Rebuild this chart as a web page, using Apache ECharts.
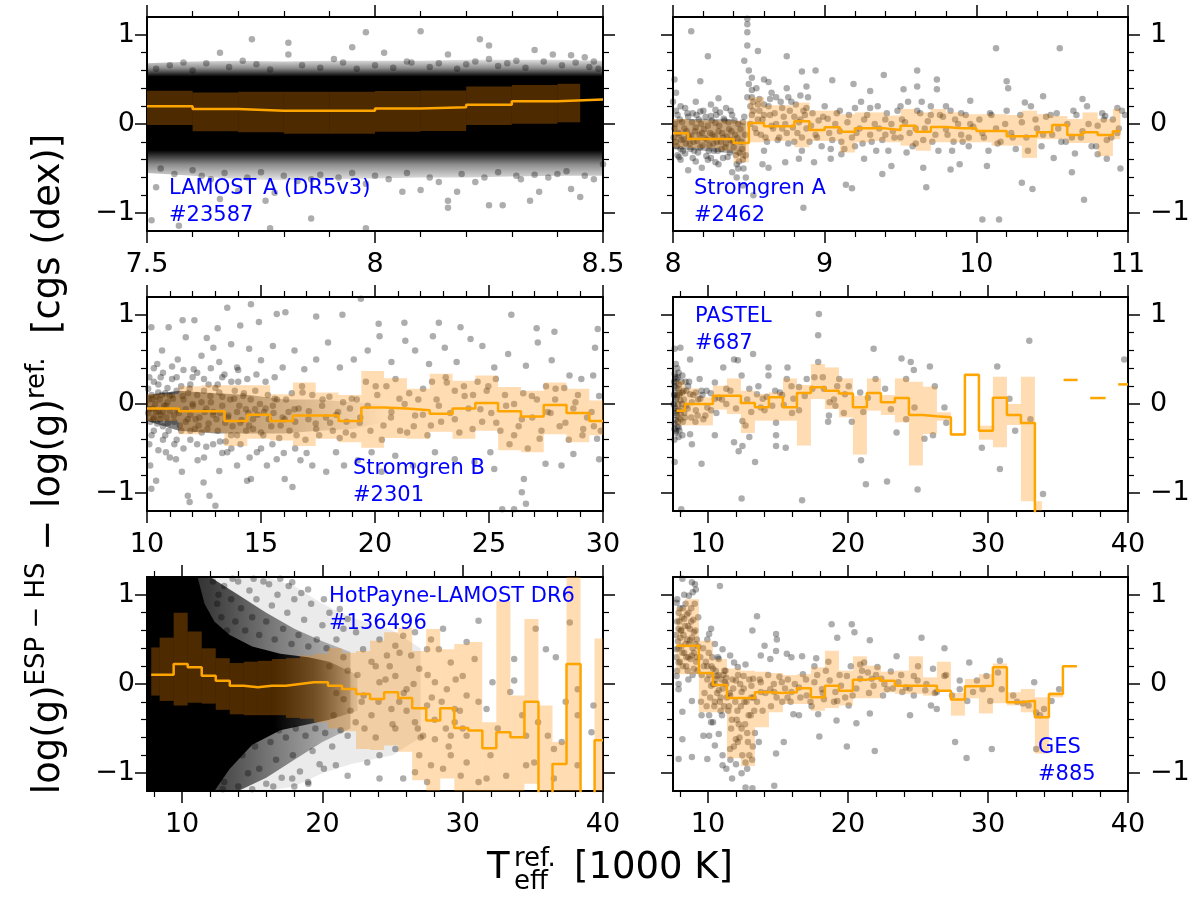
<!DOCTYPE html>
<html><head><meta charset="utf-8">
<script src="https://cdn.jsdelivr.net/npm/echarts@6/dist/echarts.min.js"></script>
<style>html,body{margin:0;padding:0;background:#fff}#c{width:1200px;height:900px}</style>
</head><body><div id="c"></div>
<script>
// ---------------- tick values ----------------
const yMajor = [-1, 0, 1];
const yMinor = [-0.8, -0.6, -0.4, -0.2, 0.2, 0.4, 0.6, 0.8];
const xMajorLamost = [7.5, 8, 8.5];
const xMinorLamost = [7.6, 7.7, 7.8, 7.9, 8.1, 8.2, 8.3, 8.4];
const xMajorStromA = [8, 9, 10, 11];
const xMinorStromA = [8.2, 8.4, 8.6, 8.8, 9.2, 9.4, 9.6, 9.8, 10.2, 10.4, 10.6, 10.8];
const xMajorStromB = [10, 15, 20, 25, 30];
const xMinorStromB = [11,12,13,14,16,17,18,19,21,22,23,24,26,27,28,29];
const xMajorWide = [10, 20, 30, 40];
const xMinorWide = [8,12,14,16,18,22,24,26,28,32,34,36,38];

// ---------------- panel labels ----------------
const panelLabels = ['LAMOST A (DR5v3)\n#23587', 'Stromgren A\n#2462', 'Stromgren B\n#2301', 'PASTEL\n#687', 'HotPayne-LAMOST DR6\n#136496', 'GES\n#885'];

// ---------------- LAMOST A ----------------
const lamEdges = [7.5,7.6,7.7,7.8,7.9,8.0,8.1,8.2,8.3,8.4,8.5];
const lamMed = [0.198,0.168,0.149,0.149,0.149,0.175,0.187,0.216,0.254,0.276];
const lamBandEdges = [7.5,7.6,7.7,7.8,7.9,8.0,8.1,8.2,8.3,8.4,8.45];
const lamHi = [0.373,0.354,0.362,0.362,0.362,0.369,0.377,0.42,0.437,0.451];
const lamLo = [-0.011,-0.082,-0.093,-0.108,-0.108,-0.086,-0.078,-0.011,0.004,0.019];
const lamDenseX = [7.5,7.6,7.7,7.8,7.9,8.0,8.1,8.2,8.3,8.4,8.5];
const lamCloudHi = [0.68,0.7,0.71,0.7,0.71,0.71,0.71,0.72,0.72,0.72,0.71];
const lamCloudLo = [-0.55,-0.58,-0.62,-0.63,-0.62,-0.61,-0.6,-0.6,-0.59,-0.58,-0.58];
const lamPts = [
[7.98,1.03],[8.1,1.04],[7.73,0.95],[7.81,0.91],[8.23,0.95],[8.25,0.88],[7.66,0.8],[7.95,0.86],[8.02,0.8],[8.35,0.83],[8.39,0.78],[8.16,0.78],[8.25,0.73],[8.31,0.71],[8.46,0.75],[7.91,0.73],[7.81,0.78],[8.43,0.77],[7.71,0.71],[7.58,0.69],[8.2,0.67],[8.08,0.69],[8.48,0.7],
[8.16,-0.86],[8.16,-0.94],[8.18,-0.76],[8.25,-0.91],[8.28,-0.91],[8.34,-0.86],[8.36,-0.76],[8.45,-0.82],[8.43,-0.73],[8.1,-0.74],[8.06,-0.76],[7.98,-0.67],[7.86,-0.62],[7.78,-0.77],[7.76,-0.86],[7.86,-1.06],[7.77,-1.17],[7.98,-1.17],[7.57,-1.14],[7.51,-1.08],[7.66,-0.84],[7.7,-0.75],[7.52,-0.71],[7.64,-0.62],[8.22,-0.65],[8.31,-0.58],[8.5,-0.45],[8.4,-0.56],
[7.52,0.62],[7.55,0.66],[7.6,0.6],[7.63,0.68],[7.68,0.64],[7.74,0.67],[7.77,0.61],[7.84,0.66],[7.88,0.63],[7.93,0.69],[7.96,0.62],[8.0,0.66],[8.04,0.63],[8.07,0.7],[8.12,0.64],[8.14,0.68],[8.18,0.62],[8.22,0.7],[8.27,0.65],[8.29,0.68],[8.33,0.63],[8.37,0.7],[8.41,0.66],[8.44,0.69],[8.47,0.64],[8.49,0.62],
[7.53,-0.5],[7.56,-0.56],[7.6,-0.52],[7.62,-0.58],[7.67,-0.55],[7.72,-0.6],[7.75,-0.54],[7.8,-0.58],[7.83,-0.64],[7.88,-0.57],[7.92,-0.6],[7.95,-0.55],[8.0,-0.58],[8.03,-0.62],[8.07,-0.55],[8.12,-0.6],[8.14,-0.65],[8.19,-0.56],[8.24,-0.6],[8.27,-0.54],[8.32,-0.62],[8.35,-0.57],[8.38,-0.6],[8.42,-0.53],[8.46,-0.58],[8.48,-0.62]
];

// ---------------- Stromgren A ----------------
const saEdges = [8.0,8.1,8.2,8.3,8.4,8.5,8.6,8.7,8.8,8.9,9.0,9.1,9.2,9.3,9.4,9.5,9.6,9.7,9.8,9.9,10.0,10.1,10.2,10.3,10.4,10.5,10.6,10.7,10.8,10.9,10.95];
const saMed = [-0.104,-0.168,-0.168,-0.168,-0.213,0.011,-0.026,-0.026,0.03,-0.067,-0.037,-0.086,-0.049,-0.049,-0.067,-0.019,-0.086,-0.034,-0.049,-0.049,-0.078,-0.078,-0.138,-0.138,-0.093,-0.011,-0.123,-0.093,-0.123,-0.082];
const saHi = [0.056,0.04,0.04,0.037,0.037,0.3,0.21,0.21,0.24,0.15,0.15,0.11,0.13,0.13,0.095,0.168,0.13,0.168,0.13,0.11,0.11,0.11,0.1,0.15,0.11,0.09,0.056,0.13,0.056,0.168];
const saLo = [-0.261,-0.27,-0.27,-0.3,-0.43,-0.205,-0.19,-0.19,-0.26,-0.19,-0.19,-0.32,-0.205,-0.19,-0.205,-0.243,-0.3,-0.205,-0.205,-0.205,-0.205,-0.243,-0.243,-0.38,-0.17,-0.17,-0.213,-0.213,-0.36,-0.17];
const saDenseX = [8.0,8.2,8.4,8.48];
const saDenseHi = [0.05,0.06,0.05,0.0];
const saDenseLo = [-0.28,-0.3,-0.33,-0.4];
const saPts = [
[8.12,1.04],[8.49,1.18],[8.49,1.12],[8.49,1.03],[8.49,0.88],[8.56,0.82],[8.47,0.71],[8.23,0.76],[8.75,0.76],[10.13,0.85],[10.55,0.85],[9.39,0.55],[9.61,0.6],[9.74,0.5],[8.85,0.59],[8.94,0.6],[8.18,0.48],[9.05,0.49],[10.2,0.48],[10.21,0.4],[10.44,0.31],[10.7,0.28],[9.96,0.26],[8.3,0.29],[8.01,0.5],[8.52,0.52],[8.6,0.5],[8.63,0.47],[8.88,0.42],[9.19,0.45],[9.3,0.37],[9.52,0.39],[9.61,0.42],[9.74,0.39],[10.32,0.24],[10.93,0.18],[10.85,0.09],
[10.04,-1.07],[10.15,-1.07],[10.71,-0.85],[8.86,-0.94],[8.46,-0.69],[8.53,-0.8],[9.18,-0.72],[9.14,-0.68],[9.67,-0.71],[10.37,-0.73],[10.3,-0.66],[10.95,-0.5],[10.86,-0.39],[9.83,-0.51],[9.89,-0.45],[10.07,-0.47],[9.38,-0.56],[9.44,-0.47],[9.54,-0.32],[9.65,-0.49],[10.51,-0.38],[10.65,-0.33],[10.8,-0.34],[10.63,-0.54],[8.04,-0.37],[8.1,-0.52],[8.19,-0.49],[8.28,-0.43],[8.39,-0.54],[8.42,-0.6],[8.59,-0.45],[8.63,-0.49],[8.74,-0.43],[8.83,-0.39],[8.93,-0.43],[9.04,-0.39],[9.11,-0.34],[9.26,-0.39],
[8.01,-0.05],[8.02,-0.2],[8.03,0.1],[8.04,-0.12],[8.05,-0.28],[8.06,0.02],[8.07,-0.17],[8.08,-0.33],[8.09,-0.08],[8.1,0.08],[8.11,-0.22],[8.12,-0.13],[8.13,0.12],[8.14,-0.3],[8.15,-0.04],[8.16,-0.19],[8.17,0.05],[8.18,-0.26],[8.19,-0.1],[8.2,0.15],[8.21,-0.16],[8.22,-0.36],[8.23,-0.02],[8.24,-0.24],[8.25,0.09],[8.26,-0.12],[8.27,-0.3],[8.28,0.01],[8.29,-0.2],[8.3,-0.08],[8.31,0.13],[8.32,-0.28],[8.33,-0.15],[8.34,0.04],[8.35,-0.22],[8.36,-0.37],[8.37,-0.06],[8.38,-0.18],[8.39,0.1],[8.4,-0.26],[8.41,-0.12],[8.42,-0.45],[8.43,0.0],[8.44,-0.32],[8.45,-0.2],[8.46,-0.4],[8.47,0.08],[8.48,-0.6],
[8.005,-0.15],[8.015,0.0],[8.025,-0.25],[8.035,-0.1],[8.045,0.05],[8.055,-0.18],[8.065,-0.3],[8.075,-0.05],[8.085,-0.22],[8.095,0.12],[8.105,-0.14],[8.115,-0.28],[8.125,0.02],[8.135,-0.2],[8.145,-0.08],[8.155,0.1],[8.165,-0.32],[8.175,-0.12],[8.185,0.0],[8.195,-0.24],[8.205,-0.06],[8.215,0.08],[8.225,-0.18],[8.235,-0.3],[8.245,-0.1],[8.255,0.04],[8.265,-0.22],[8.275,-0.14],[8.285,0.1],[8.295,-0.3],[8.305,-0.02],[8.315,-0.2],[8.325,-0.1],[8.335,0.06],[8.345,-0.26],[8.355,-0.14],[8.365,0.02],[8.375,-0.32],[8.385,-0.08],[8.395,-0.2],[8.405,0.04],[8.415,-0.35],[8.425,-0.16],[8.435,-0.42],[8.445,-0.06],[8.455,-0.28],[8.465,-0.5],[8.475,-0.12],[8.48,-0.35],[8.46,0.02],[8.03,-0.35],[8.08,0.18],[8.13,-0.38],[8.18,0.14],[8.23,-0.4],[8.28,0.16],[8.33,-0.38],[8.38,0.15],[8.43,-0.5],[8.02,0.15],
[8.05,0.2],[8.15,0.25],[8.25,0.22],[8.35,0.18],[8.05,-0.4],[8.15,-0.42],[8.25,-0.38],[8.3,-0.45],[8.0,0.25],[8.02,0.35],
[8.49,0.3],[8.5,0.45],[8.51,0.2],[8.52,0.38],[8.53,0.25],[8.55,0.4],[8.57,0.15],[8.5,0.6],[8.52,0.1],[8.54,-0.05],
[8.56,0.05],[8.58,-0.12],[8.6,0.22],[8.62,-0.2],[8.64,0.1],[8.66,-0.05],[8.68,0.3],[8.7,-0.15],[8.72,0.18],[8.74,0.0],[8.76,-0.22],[8.78,0.25],[8.8,0.08],[8.82,-0.1],[8.84,0.32],[8.86,0.15],[8.88,-0.05],[8.9,-0.2],[8.92,0.12],[8.94,-0.12],[8.96,0.04],[8.98,-0.25],[8.65,0.35],[8.75,0.4],[8.85,-0.3],[8.6,-0.3],
[8.51,0.0],[8.53,0.15],[8.55,-0.1],[8.57,0.28],[8.59,0.05],[8.61,-0.15],[8.63,0.2],[8.65,-0.02],[8.67,0.12],[8.69,-0.18],[8.71,0.25],[8.73,0.08],[8.75,-0.1],[8.77,0.15],[8.79,-0.04],[8.81,0.22],[8.83,0.02],[8.85,-0.15],[8.87,0.1],[8.89,0.3],[8.52,0.3],[8.56,0.22],[8.6,0.1],[8.64,0.28],[8.68,0.0],[8.72,-0.05],[8.76,0.3],[8.8,-0.2],[8.84,0.05],[8.88,0.18],
[9.02,0.06],[9.05,-0.18],[9.08,0.12],[9.1,-0.08],[9.13,-0.28],[9.15,0.02],[9.18,-0.15],[9.2,0.18],[9.23,-0.05],[9.25,-0.22],[9.28,0.1],[9.3,-0.12],[9.33,0.0],[9.35,0.2],[9.38,-0.18],[9.4,0.05],[9.42,-0.3],[9.45,-0.08],[9.48,0.15],[9.5,-0.15],[9.53,0.02],[9.55,0.25],[9.58,-0.25],[9.6,-0.05],[9.63,0.12],[9.65,-0.18],[9.68,0.03],[9.7,0.2],[9.73,-0.12],[9.75,-0.3],[9.78,0.08],[9.8,-0.06],[9.83,0.15],[9.85,-0.2],[9.88,0.0],[9.9,-0.12],[9.93,0.1],[9.95,-0.25],[9.98,-0.03],
[8.91,-0.02],[8.95,-0.15],[8.99,0.08],[9.03,-0.1],[9.07,0.0],[9.11,-0.2],[9.16,0.1],[9.21,-0.1],[9.26,0.05],[9.31,-0.2],[9.36,-0.05],[9.41,0.12],[9.46,-0.15],[9.51,0.05],[9.56,-0.1],[9.61,0.15],[9.66,-0.05],[9.71,-0.2],[9.76,0.1],[9.81,-0.12],[9.86,0.05],[9.91,-0.2],[9.96,0.0],[9.0,0.2],[9.1,0.15],[9.2,-0.25],[9.3,0.18],[9.4,-0.12],[9.5,0.2],[9.6,-0.22],[9.7,0.1],[9.8,0.2],[9.9,0.12],[9.95,-0.15],[9.04,-0.28],[9.24,0.25],[9.44,0.0],[9.64,0.25],[9.84,-0.3],[9.34,-0.3],
[10.02,0.05],[10.05,-0.15],[10.08,-0.3],[10.1,0.1],[10.13,-0.05],[10.16,-0.2],[10.2,0.15],[10.23,-0.1],[10.26,-0.28],[10.3,0.02],[10.33,-0.15],[10.36,0.2],[10.4,-0.05],[10.43,-0.25],[10.46,0.08],[10.5,-0.12],[10.53,0.12],[10.56,-0.2],[10.6,0.0],[10.63,-0.15],[10.66,0.1],[10.7,-0.08],[10.73,0.2],[10.76,-0.25],[10.8,-0.02],[10.83,0.12],[10.86,-0.18],[10.9,0.05],[10.93,-0.1],[10.96,0.15],
[10.04,-0.1],[10.09,0.12],[10.14,-0.22],[10.19,0.0],[10.24,-0.15],[10.29,0.1],[10.34,-0.3],[10.39,0.05],[10.44,-0.12],[10.49,0.1],[10.54,-0.05],[10.59,-0.2],[10.64,0.15],[10.69,-0.15],[10.74,0.0],[10.79,-0.25],[10.84,0.05],[10.89,-0.15],[10.94,-0.05],[10.98,0.1]
];

// ---------------- Stromgren B ----------------
const sbEdges = [10,11.4,12.4,13.4,14.4,15.4,16.4,17.4,18.4,19.4,20.4,21.4,22.4,23.4,24.4,25.4,26.4,27.4,28.4,29.4,30];
const sbMed = [-0.05,-0.08,-0.08,-0.19,-0.12,-0.19,-0.13,-0.13,-0.19,-0.04,-0.05,-0.07,-0.11,-0.05,0.01,-0.08,-0.14,-0.01,-0.10,-0.19];
const sbHi = [0.11,0.2,0.21,0.21,0.21,0.11,0.24,0.13,0.1,0.37,0.29,0.17,0.34,0.26,0.32,0.19,0.15,0.24,0.17,0.04];
const sbLo = [-0.19,-0.34,-0.32,-0.47,-0.39,-0.41,-0.47,-0.39,-0.43,-0.49,-0.38,-0.39,-0.31,-0.39,-0.3,-0.52,-0.54,-0.34,-0.43,-0.35];
const sbDenseX = [10,11.4,13,14.5,16,17.5,19,20.5];
const sbDenseHi = [0.1,0.15,0.12,0.1,0.05,0.05,0.02,0.0];
const sbDenseLo = [-0.19,-0.3,-0.33,-0.33,-0.33,-0.3,-0.28,-0.2];
const sbPts = [
[10.19,0.86],[10.95,0.86],[11.56,0.94],[12.08,0.94],[12.62,0.74],[13.1,0.85],[13.52,1.08],[14.09,0.88],[14.56,1.12],[14.91,0.92],[15.69,1.01],[16.07,1.03],[17.42,0.98],[18.57,1.0],[19.38,1.18],[20.16,0.9],[21.29,0.91],[22.8,0.91],[23.75,0.86],[25.98,1.0],[27.09,0.85],[27.87,0.81],[29.77,0.84],
[10.45,0.45],[10.66,0.6],[11.35,0.5],[11.7,0.75],[12.05,0.39],[12.39,0.54],[12.91,0.63],[13.17,0.47],[13.69,0.67],[13.95,0.41],[14.48,0.62],[15.0,0.49],[15.52,0.65],[15.95,0.41],[16.47,0.6],[16.9,0.39],[17.42,0.5],[17.94,0.69],[18.46,0.41],[19.07,0.5],[19.68,0.6],[20.2,0.76],[20.72,0.47],[21.33,0.71],[21.76,0.6],[22.37,0.45],[22.54,0.76],[23.06,0.63],[23.58,0.47],[24.19,0.73],[24.71,0.65],[25.23,0.41],[25.84,0.56],[26.62,0.43],[27.14,0.69],[27.75,0.49],[28.53,0.32],[29.05,0.28],[29.57,0.32],[29.65,0.63],
[10.14,-0.69],[10.19,-0.95],[10.4,-0.86],[10.83,-0.54],[11.27,-0.62],[11.53,-0.76],[11.79,-1.03],[11.87,-1.1],[12.22,-0.63],[12.48,-0.88],[12.74,-1.03],[13.0,-1.14],[13.17,-0.75],[13.52,-0.54],[13.95,-0.69],[14.39,-0.86],[14.56,-0.84],[14.82,-0.54],[15.26,-0.69],[15.69,-0.62],[16.04,-0.84],[16.38,-0.93],[16.73,-0.63],[17.25,-0.69],[17.86,-0.76],[18.29,-0.54],[18.64,-0.69],[19.25,-0.63],[19.85,-0.54],[20.29,-0.76],[20.89,-0.58],[21.67,-0.69],[22.63,-0.54],[23.5,-0.62],[24.36,-0.65],[25.06,-0.54],[25.23,-0.73],[25.58,-1.18],[26.1,-1.18],[26.53,-0.84],[26.44,-0.99],[26.62,-1.12],[27.48,-0.67],[28.18,-0.69],[28.7,-0.56],[29.83,-0.62],[29.74,-0.39],
[10.05,0.17],[10.23,0.06],[10.4,-0.09],[10.57,-0.17],[10.83,-0.02],[11.0,0.09],[11.18,-0.13],[11.44,-0.24],[11.7,-0.06],[11.87,0.17],[12.13,-0.17],[12.39,0.02],[12.65,-0.28],[12.91,-0.09],[13.17,0.13],[13.43,-0.21],[13.69,-0.35],[13.95,-0.09],[14.22,0.09],[14.48,-0.24],[14.74,-0.06],[15.0,-0.32],[15.34,-0.17],[15.6,0.06],[15.86,-0.24],[16.21,-0.09],[16.56,-0.35],[16.82,0.13],[17.08,-0.17],[17.42,-0.28],[17.68,-0.02],[18.03,-0.21],[18.38,-0.09],[18.72,-0.32],[18.98,0.06],[19.33,-0.21],[19.68,-0.02],[20.03,0.2],[20.37,-0.24],[20.72,-0.09],[21.07,0.06],[21.41,-0.32],[21.76,-0.13],[22.11,0.17],[22.45,-0.24],[22.8,-0.02],[23.15,0.24],[23.5,-0.17],[23.93,0.09],[24.28,-0.28],[24.62,-0.06],[24.97,0.2],[25.32,-0.21],[25.75,-0.02],[26.1,-0.35],[26.44,-0.17],[26.88,0.09],[27.22,-0.39],[27.57,-0.09],[27.92,0.17],[28.35,-0.21],[28.79,0.02],[29.13,-0.28],[29.5,-0.09],[29.83,0.09],
[10.1,-0.06],[10.28,-0.17],[10.49,0.13],[10.69,-0.09],[10.92,-0.21],[11.14,0.06],[11.32,-0.07],[11.56,0.09],[11.79,-0.17],[12.01,-0.02],[12.26,-0.24],[12.53,-0.09],[12.78,0.09],[13.05,-0.17],[13.3,-0.02],[13.57,-0.13],[13.82,0.06],[14.09,-0.21],[14.34,-0.06],[14.65,-0.17],[15.13,-0.09],[15.52,-0.02],[16.04,-0.17],[16.47,-0.06],
[10.3,0.25],[10.6,0.3],[11.1,0.28],[11.5,0.2],[12.0,0.3],[12.7,0.22],[13.3,0.3],[14.0,0.25],[10.2,-0.35],[10.7,-0.4],[11.2,-0.45],[11.9,-0.4],[12.6,-0.48],[13.2,-0.42],
[10.05,-0.1],[10.1,0.05],[10.15,-0.2],[10.2,0.1],[10.25,-0.05],[10.3,-0.15],[10.35,0.0],[10.4,0.08],[10.45,-0.22],[10.5,-0.08],[10.55,0.05],[10.6,-0.12],[10.65,0.1],[10.7,-0.25],[10.75,-0.02],[10.8,0.12],[10.85,-0.15],[10.9,0.02],[10.95,-0.3],[11.0,-0.08],[11.1,0.1],[11.2,-0.2],[11.3,0.15],[11.4,-0.1],[11.5,-0.3],[11.6,0.05],[11.7,-0.2],[11.8,0.12],[11.9,-0.12],[12.0,0.0],[12.1,-0.28],[12.2,0.1],[12.3,-0.15],[12.4,-0.32],[12.5,0.15],[12.6,-0.05],[12.7,-0.22],[12.8,0.02],[12.9,-0.12],[13.0,0.18],
[13.1,-0.3],[13.2,-0.1],[13.3,0.08],[13.45,-0.42],[13.55,-0.15],[13.65,0.05],[13.75,-0.25],[13.85,0.15],[13.95,-0.35],[14.05,-0.02],[14.15,-0.18],[14.25,0.12],[14.35,-0.3],[14.45,-0.1],[14.55,0.05],[14.65,-0.28],[14.75,0.15],[14.85,-0.12],[14.95,0.0],[15.1,-0.35],[15.2,-0.05],[15.3,0.1],[15.45,-0.25],[15.55,-0.1],[15.7,0.05],[15.8,-0.38],[15.95,-0.15],[16.1,0.05],[16.25,-0.3],[16.35,0.12],[16.5,-0.2],[16.65,-0.05],[16.8,0.2],[16.95,-0.4],[17.1,-0.08],[17.25,0.1],[17.4,-0.22],[17.55,-0.35],[17.7,0.05],[17.85,-0.15],[18.0,0.08],[18.15,-0.3],[18.3,-0.12],[18.45,-0.38],[18.6,0.02],[18.75,-0.2],[18.9,-0.05],[19.05,-0.35],[19.2,0.05],[19.35,-0.15],
[19.6,0.25],[19.8,-0.3],[20.1,0.1],[20.3,-0.4],[20.5,0.2],[20.7,-0.15],[20.9,0.28],[21.1,-0.3],[21.3,0.0],[21.5,0.12],[21.7,-0.25],[21.9,0.05],[22.1,-0.12],[22.3,-0.35],[22.5,0.25],[22.7,0.05],[22.9,-0.2],[23.1,0.3],[23.3,-0.1],[23.5,0.15],[23.7,-0.32],[23.9,0.2],[24.1,-0.05],[24.3,0.1],[24.5,0.25],[24.7,-0.2],[24.9,0.15],[25.1,-0.1],[25.3,0.28],[25.5,-0.3],[25.7,0.1],[25.9,-0.45],[26.1,0.0],[26.3,-0.25],[26.5,0.12],[26.7,-0.5],[26.9,-0.15],[27.1,0.05],[27.3,-0.3],[27.5,0.2],[27.7,-0.1],[27.9,0.05],[28.1,-0.25],[28.3,0.18],[28.5,-0.4],[28.7,-0.05],[28.9,0.1],[29.1,-0.35],[29.3,-0.15],[29.6,-0.25],[29.9,-0.3],
[10.1,0.3],[10.3,0.4],[10.5,0.22],[10.7,0.35],[10.9,0.18],[11.1,0.42],[11.3,0.3],[11.6,0.38],[11.9,0.22],[12.2,0.35],[12.5,0.28],[12.8,0.4],[13.1,0.22],[13.4,0.33],[13.7,0.25],[14.0,0.38],[14.4,0.28],[14.8,0.33],[15.2,0.25],[15.6,0.3],
[10.1,-0.45],[10.3,-0.3],[10.5,-0.52],[10.8,-0.35],[11.0,-0.6],[11.3,-0.4],[11.6,-0.5],[11.9,-0.3],[12.2,-0.45],[12.5,-0.6],[12.9,-0.45],[13.3,-0.55],[13.7,-0.5],[14.1,-0.45],[14.5,-0.6],[15.0,-0.5],[15.5,-0.45],[16.0,-0.55],[16.5,-0.5],[17.0,-0.55]
];

// ---------------- PASTEL ----------------
const paEdges = [7.75,8.35,9.35,10.35,11.35,12.35,13.35,14.35,15.35,16.35,17.35,18.35,19.35,20.35,21.35,22.35,23.35,24.35,25.35,26.35,27.35,28.35,29.35,30.35,31.35,32.35,33.35,33.85];
const paMed = [-0.075,0,0,0.093,0.093,0.011,-0.037,0.075,-0.037,0.123,0.187,0.149,0.119,-0.037,0.123,0.019,0.067,-0.123,-0.138,-0.149,-0.343,0.328,-0.299,0.071,-0.123,-0.213,-1.6];
const paHi = [0.26,0.175,0.075,0.205,0.287,0.149,0.112,0.13,0.287,0.213,0.448,0.41,0.287,0.093,0.287,0.1,0.287,0.25,0.194,-0.093,-0.325,0.336,-0.243,0.306,0,0.306,-1.09];
const paLo = [-0.24,-0.24,-0.24,-0.063,-0.112,-0.325,-0.187,-0.187,-0.187,-0.466,0.056,-0.056,-0.149,-0.567,-0.075,-0.123,-0.205,-0.69,-0.336,-0.187,-0.354,0.31,-0.4,-0.485,-0.235,-1.09,-1.2];
const paIsoX0 = [35.4, 37.3, 39.3];
const paIsoX1 = [36.4, 38.4, 40.0];
const paIsoY = [0.27, 0.067, 0.22];
const paPts = [
[7.62,0.34],[7.76,0.28],[7.9,0.35],[8.17,0.32],[7.62,0.2],[7.9,0.17],[8.17,0.13],[7.76,0.07],[8.03,0.04],[7.62,-0.02],[7.9,-0.07],[7.76,-0.13],[8.03,-0.17],[7.62,-0.22],[7.9,-0.26],[7.7,-0.32],[7.9,-0.37],[7.62,0.62],[8.03,0.63],[8.17,-0.35],[8.72,-0.34],[8.85,-0.45],[8.44,-0.02],[8.72,0.11],[8.58,0.2],[8.72,0.5],[9.54,-0.67],[7.62,-0.65],[8.09,-1.18],
[7.58,0.1],[7.66,-0.1],[7.72,0.24],[7.84,-0.2],[7.8,0.4],[7.95,0.1],[8.1,-0.05],[8.25,0.15],[8.3,-0.1],[8.4,0.25],[7.6,-0.4],[7.7,0.45],
[7.55,0.0],[7.58,0.25],[7.6,-0.28],[7.63,0.12],[7.65,-0.05],[7.67,0.3],[7.69,-0.18],[7.71,0.05],[7.73,-0.3],[7.75,0.18],[7.78,-0.08],[7.8,0.1],[7.82,-0.25],[7.85,0.3],[7.87,0.0],[7.9,-0.15],[7.93,0.22],[7.96,-0.3],[8.0,0.12],[8.05,-0.1],[8.1,0.25],[8.15,0.0],[8.2,-0.2],[8.28,0.05],[8.35,-0.15],[8.45,0.15],[8.55,-0.05],[8.65,0.25],[8.8,-0.15],[8.95,0.1],[9.1,-0.2],[9.3,0.05],[9.6,0.1],[9.9,0.15],[10.2,0.12],[10.6,-0.1],[11.0,0.05],[11.6,0.15],[12.0,-0.05],[12.8,0.05],[13.6,0.2],[14.2,0.08],[14.8,0.15],[15.3,0.1],[16.0,-0.1],[17.6,0.3],[18.2,0.3],[19.0,0.05],[19.7,-0.1],
[9.13,-0.07],[9.45,0.06],[9.81,-0.13],[9.95,-0.04],[10.49,-0.35],[10.49,0.24],[11.09,0.41],[11.31,0.17],[11.86,0.5],[12.13,0.49],[12.4,0.32],[12.46,-0.19],[12.68,-0.24],[11.86,-0.43],[12.19,-0.53],[12.46,-0.47],[12.95,-0.37],[13.22,0.56],[13.36,-0.65],[12.4,-1.06],[12.95,0.17],[13.5,0.11],[13.91,0.06],[14.04,-0.07],[14.32,0.32],[14.32,0.41],[14.59,-0.02],[14.86,-0.21],[14.86,-0.35],[14.86,-0.47],[15.55,-0.49],[15.63,0.28],[15.68,0.41],[15.96,0.2],[16.1,0.06],[16.5,-0.07],[16.72,-1.08],[17.05,0.28],[17.46,0.17],[17.87,0.47],[17.87,0.77],[17.92,1.01],[18.28,0.17],[18.69,0.02],[18.64,-0.13],[18.58,-0.2],[19.1,-0.02],[19.37,0.28],[20.05,0.2],[20.27,-0.2],[20.93,-0.63],[21.09,-0.09],[21.28,-0.9],[21.83,0.62],[21.97,0.28],[22.79,-0.87],[23.47,-0.32],[23.82,0.51],[24.15,0.28],[24.48,0.47],[24.7,0.38],[24.75,-0.04],[24.97,-0.96],[25.46,-0.39],[25.85,0.42],[26.2,0.2],[26.07,-0.35],[26.89,-0.04],[27.02,-0.21],[30.66,0.42],[30.85,-0.73],[29.56,-0.49],[31.53,0.06],[31.94,-0.3],[32.95,0.71],[33.03,-0.17],[33.93,-1.01],[39.73,0.5],[24.15,-0.17],[23.06,-0.06],[22.65,0.17],[21.42,0.07],[20.87,0.13],[19.78,0.11],[19.23,0.2],[16.91,0.09],[16.5,0.19],[15.41,-0.01],[15.14,0.13],[13.77,-0.04],[13.09,-0.09],[11.31,0],[10.77,0.07],[10.49,0.06],[10.22,-0.07],[9.67,-0.17],[9.26,-0.13],[8.85,0.02],[9.13,0.13],[9.4,0.28],[9.54,0.15]
];

// ---------------- HotPayne-LAMOST DR6 ----------------
const hpEdges = [7.8,8.4,9.4,10.4,11.4,12.4,13.4,14.4,15.4,16.4,17.4,18.4,19.4,20.4,21.4,22.4,23.4,24.4,25.4,26.4,27.4,28.4,29.4,30.4,31.4,32.4,33.4,34.4,35.4,36.4,37.4,38.4,39.4,40];
const hpMed = [0.104,0.104,0.224,0.187,0.093,0.037,-0.019,-0.037,-0.019,-0.019,0,0.019,0.019,-0.019,-0.056,-0.112,-0.168,-0.093,-0.157,-0.272,-0.41,-0.272,-0.493,-0.522,-0.72,-0.541,-0.597,-0.198,-1.6,-0.896,0.224,-1.6,-0.63];
const hpHi = [0.41,0.52,0.8,0.59,0.4,0.29,0.235,0.25,0.26,0.28,0.29,0.32,0.34,0.4,0.35,0.37,0.485,0.58,0.63,0.37,0.616,0.39,0.45,0.47,-0.43,0.93,-0.13,0.73,-0.24,-0.65,1.2,-1.2,0.51];
const hpLo = [-0.13,-0.19,-0.24,-0.21,-0.22,-0.29,-0.34,-0.35,-0.35,-0.35,-0.38,-0.39,-0.43,-0.5,-0.53,-0.73,-0.74,-0.69,-0.76,-1.08,-1.2,-1.06,-1.2,-1.2,-1.2,-1.2,-1.2,-1.12,-1.2,-1.2,-1.2,-1.2,-1.2];
const hpCoreX = [7.5,11.1,11.6,12.3,13.4,15.0,17.0,19.0,20.5,22.5];
const hpCoreHi = [1.2,1.2,0.9,0.7,0.55,0.42,0.34,0.3,0.25,0.1];
const hpCoreLo = [-1.2,-1.2,-1.2,-1.2,-0.95,-0.68,-0.52,-0.45,-0.4,-0.3];
const hpMidX = [7.5,12.0,14.0,16.0,18.0,20.0,22.0];
const hpMidHi = [1.2,1.2,1.0,0.8,0.62,0.48,0.36];
const hpMidLo = [-1.2,-1.2,-1.2,-1.05,-0.85,-0.65,-0.5];
const hpOutX = [7.5,14,16,18,20,22,25,27];
const hpOutHi = [1.2,1.2,1.2,1.1,0.9,0.75,0.6,0.4];
const hpOutLo = [-1.2,-1.2,-1.2,-1.15,-1.0,-0.9,-0.8,-0.6];
const hpPts = [
[31.13,0.71],[35.2,0.62],[36.64,0.3],[32.12,0.02],[33.67,0.04],[33.39,-0.09],[39.18,-0.54],[37.06,-0.65],[36.07,-0.58],[34.52,-0.91],[36.5,-0.73],[31.13,-1.1],[31.7,-1.06],[33.1,-1.03],[29.86,-1.03],[28.6,-0.95],[26.6,-0.99],[25.76,-1.06],[24.07,-1.06],[23.2,-0.88],[21.8,-1.03],[20.96,-0.91],[20.11,-0.95],[18.98,-1.1],[17.85,-1.06],[24.07,-0.8],[25.2,-0.73],[26.9,-0.8],[27.74,-0.91],[29.15,-0.8],[30.28,-0.88],[28.02,-0.62],[29.15,-0.58],[26.6,-0.43],[25.2,-0.5],[27.46,-0.24],[29.43,-0.28],[30.28,-0.13],[31.13,-0.2],[31.7,-0.28],[30.0,0.09],[29.15,0.24],[28.3,0.39],[27.74,0.5],[26.6,0.58],[25.76,0.54],[25.2,0.43],[24.6,0.32],[26.9,0.17],[28.02,0.02],[26.0,-0.06],[24.07,0.02],[23.8,0.2],[22.9,0.39],[22.4,0.58],[21.8,0.73],[21.24,0.84],[20.11,0.95],[18.98,1.06],[17.85,1.14],[24.07,0.5],[31.98,-0.8],[34.52,-0.58],[38.2,-0.35],[39.32,-0.24],[38.2,-0.06],[35.37,-0.43],[32.5,-0.5],[34.24,-0.35],[37.34,-0.2],[35.93,0.39],[37.63,0.69],[33.67,0.28],[30.85,0.28],[30.28,0.47],[28.6,0.62],[27.46,0.39],[26.33,0.32],[24.92,-0.28],[23.5,-0.35],[22.37,-0.43],[21.8,-0.58],[27.18,-0.58],[29.43,-0.43],[30.28,-0.58],[22.94,-0.13],[21.52,-0.17],[25.2,0.09],[25.48,-0.2],[28.87,-0.06],[38.19,-0.91],[35.1,-0.88],[36.5,-1.06],[27.46,-1.1],
[13.0,1.1],[13.5,0.95],[14.0,1.15],[14.2,0.85],[14.8,1.05],[15.0,0.75],[15.3,0.95],[15.8,1.15],[16.0,0.7],[16.4,0.88],[16.8,1.0],[17.2,0.62],[17.5,0.8],[18.0,0.95],[18.3,0.55],[18.7,0.72],[19.2,0.9],[19.6,0.5],[20.0,0.66],[20.5,0.8],[21.0,0.5],[21.5,0.62],[12.5,0.9],[12.8,0.75],[13.2,0.6],[13.8,0.7],[14.5,0.6],[15.5,0.55],[16.6,0.5],[17.8,0.45],[19.0,0.42],[20.3,0.4],[12.2,1.15],[12.6,1.0],[13.6,1.18],[15.1,1.18],[16.2,1.12],[17.0,1.18],[17.6,1.1],[18.5,1.02],
[13.0,-1.1],[13.4,-0.9],[14.0,-1.15],[14.3,-0.8],[14.7,-1.0],[15.2,-0.7],[15.5,-0.95],[16.0,-1.12],[16.3,-0.65],[16.7,-0.85],[17.1,-1.05],[17.4,-0.6],[17.9,-0.8],[18.4,-0.98],[18.8,-0.58],[19.3,-0.75],[19.8,-0.9],[20.2,-0.55],[20.7,-0.7],[21.3,-0.52],[12.4,-0.95],[12.7,-0.8],[13.3,-0.65],[13.9,-0.6],[14.6,-0.55],[15.8,-0.56],[16.9,-0.52],[18.1,-0.5],[19.5,-0.5],[12.1,-1.15],[12.9,-1.18],[15.0,-1.18],[16.5,-1.15],[18.0,-1.15],[19.0,-1.12],
[20.5,0.2],[21.0,-0.1],[21.5,0.3],[22.0,-0.3],[22.5,0.1],[23.0,-0.5],[23.5,0.25],[24.0,-0.2],[24.5,0.05],[25.0,-0.45],[25.5,0.35],[26.0,-0.3],[26.5,0.0],[27.0,-0.6],[27.5,0.1],[28.0,-0.4],[28.5,-0.2],[29.0,-0.7],[29.5,0.05],[30.0,-0.5],[20.8,-0.35],[21.8,0.15],[22.8,-0.2],[23.8,-0.6],[24.8,0.2],[25.8,-0.1],[26.8,-0.5],[27.8,-0.15],[28.8,-0.5],[29.8,-0.3]
];

// ---------------- GES ----------------
const geEdges = [7.75,8.35,9.35,10.35,11.35,12.35,13.35,14.35,15.35,16.35,17.35,18.35,19.35,20.35,21.35,22.35,23.35,24.35,25.35,26.35,27.35,28.35,29.35,30.35,31.35,32.35,33.35,34.35,35.35,36.35];
const geMed = [0.429,0.429,0.123,-0.011,-0.157,-0.157,-0.093,-0.1,-0.093,-0.049,-0.149,-0.019,-0.075,0.049,0.067,0.037,-0.019,-0.019,-0.019,-0.075,-0.175,-0.026,-0.019,0.187,-0.205,-0.187,-0.373,-0.112,0.198];
const geHi = [0.86,0.95,0.485,0.28,0.175,0.15,0.138,0.123,0.1,0.11,0.187,0.373,0.15,0.31,0.205,0.138,0.15,0.31,0.075,0.25,-0.1,0.056,0.11,0.23,-0.093,-0.056,-0.149,-0.093,0.21];
const geLo = [0.11,0.11,-0.317,-0.317,-0.832,-0.92,-0.485,-0.317,-0.224,-0.224,-0.3,-0.27,-0.24,-0.16,-0.16,-0.093,-0.11,-0.11,-0.13,-0.075,-0.355,-0.16,-0.33,-0.216,-0.24,-0.317,-0.78,-0.15,0.19];
const gePts = [
[8.17,1.18],[8.85,1.14],[9.07,1.12],[9.13,1.06],[8.91,1.03],[8.63,0.99],[10.85,1.1],[7.76,0.91],[7.9,0.8],[8.3,0.73],[8.58,0.65],[7.9,0.62],[8.99,0.58],[8.03,0.52],[8.72,0.49],[7.76,0.39],[8.17,0.35],[8.85,0.32],[7.9,0.24],[8.44,0.2],[8.99,0.17],[7.76,0.09],[7.9,-0.06],[8.2,0.85],[8.5,0.78],[8.8,0.7],[9.1,0.45],[8.4,0.45],[8.1,0.6],[9.2,0.3],[7.8,0.7],[8.6,0.3],
[7.7,0.55],[7.75,0.3],[7.8,0.15],[7.85,0.48],[7.9,0.4],[7.95,0.7],[8.0,0.25],[8.05,0.6],[8.1,0.42],[8.15,0.75],[8.2,0.2],[8.25,0.55],[8.3,0.35],[8.35,0.65],[8.4,0.9],[8.45,0.3],[8.5,0.5],[8.55,0.15],[8.6,0.8],[8.65,0.45],[8.7,0.62],[8.75,0.28],[8.8,0.85],[8.85,0.52],[8.9,0.4],[8.95,0.72],[9.0,0.35],[9.05,0.9],[9.1,0.6],[9.15,0.25],[9.2,0.5],[9.25,0.15],[9.3,0.42],[7.8,0.95],[8.0,0.85],[8.3,1.0],[8.6,0.05],[8.9,0.1],[7.9,0.0],[9.3,0.75],
[10.08,0.56],[10.22,0.62],[9.95,0.5],[10.49,0.45],[11.04,0.39],[11.58,0.32],[10.77,0.28],[11.86,0.24],[9.95,0.2],[10.36,0.17],[11.17,0.15],[12.13,0.19],[12.68,0.22],[10.63,0.09],[11.31,0.07],[11.99,0.04],[12.54,0.09],[13.22,0.06],[13.77,0.02],[10.22,-0.02],[10.77,-0.07],[11.58,-0.13],[12.4,-0.09],[13.09,-0.15],[13.77,-0.09],[14.45,-0.06],[10.49,-0.2],[10.08,-0.35],[10.36,-0.43],[10.77,-0.56],[10.08,-0.58],[10.49,-0.69],[11.04,-0.8],[11.31,-0.95],[11.72,-1.06],[12.68,-1.16],[13.17,-1.17],[14.73,-1.14],[11.04,-0.91],[11.58,-0.73],[11.99,-0.62],[12.4,-0.5],[12.95,-0.8],[12.68,-0.88],[12.13,-0.65],[13.63,-0.65],[14.86,-0.78],[15.41,-0.65],[8.17,-0.31],[8.85,-0.19],[8.17,-0.62],[7.9,-0.84],[8.85,-0.82],[9.95,-0.84],[9.67,-0.58],[10.22,-0.43],[9.54,-0.35],[13.5,0.76],[13.17,0.6],[14.86,0.56],[14.92,0.5],[14.04,0.43],[14.86,0.37],[15.63,0.34],[15.96,0.3],[16.72,0.31],[17.73,0.29],[13.77,0.32],[14.45,0.28],
[9.45,0.3],[9.55,0.1],[9.65,0.4],[9.75,-0.1],[9.85,0.25],[9.95,0.05],[10.05,0.35],[10.15,-0.15],[10.25,0.2],[10.35,0.0],[10.45,-0.25],[10.55,0.15],[10.65,-0.1],[10.75,0.1],[10.85,-0.2],[10.95,0.05],[11.05,-0.05],[11.15,-0.25],[11.25,0.15],[11.35,-0.15],[9.5,-0.2],[9.7,0.2],[9.9,-0.25],[10.1,0.1],[10.3,0.3],[10.5,0.05],[10.7,0.3],[10.9,-0.3],[11.1,0.1],[11.3,0.0],
[11.45,-0.3],[11.55,-0.1],[11.65,-0.5],[11.75,0.05],[11.85,-0.7],[11.95,-0.2],[12.05,-0.4],[12.15,0.1],[12.25,-0.6],[12.35,-0.25],[12.45,-0.8],[12.55,-0.05],[12.65,-0.45],[12.75,-0.2],[12.85,-0.65],[12.95,0.05],[13.05,-0.35],[13.15,-0.85],[13.25,-0.15],[13.35,-0.55],[11.6,-0.85],[12.0,-0.9],[12.4,-1.0],[12.8,-0.95],[13.2,-0.7],
[10.5,0.0],[10.9,-0.15],[11.2,0.02],[11.5,-0.25],[11.8,-0.05],[12.1,-0.3],[12.3,0.0],[12.6,-0.2],[12.9,-0.35],[13.1,-0.02],[11.0,-0.35],[11.7,-0.4],[12.2,-0.45],[12.8,-0.55],[13.3,-0.3],
[13.5,-0.2],[13.7,0.05],[13.9,-0.3],[14.1,-0.1],[14.3,0.1],[14.5,-0.25],[14.7,0.0],[14.9,-0.15],[15.1,0.08],[15.3,-0.2],[15.5,-0.05],[15.7,0.05],[15.9,-0.2],[16.2,0.0],[16.6,-0.15],[17.0,0.05],[17.4,-0.25],[17.8,0.1],[18.2,-0.1],[18.6,0.25],[19.0,-0.2],[19.4,0.1],[19.8,-0.15],[20.2,0.2],[20.6,-0.05],[21.0,0.15],[21.5,-0.1],[22.0,0.1],[22.6,0.0],[23.2,-0.05],[23.8,0.1],[24.4,-0.05],[25.0,0.2],[25.6,0.0],[26.2,-0.1],[27.0,0.1],
[18.83,0.67],[20.27,0.67],[19.23,0.52],[20.46,0.58],[21.56,0.49],[25.25,0.52],[26.89,0.4],[23.47,0.31],[28.66,0.24],[30.85,0.26],[22.1,0.19],[21.15,0.24],[23.06,0.14],[24.7,0.09],[26.07,0.17],[26.89,0.09],[27.98,0.04],[29.21,0.04],[29.89,0.09],[30.71,0.13],[31.8,-0.13],[32.49,-0.22],[33.3,0.02],[35.08,-0.06],[34.54,-0.19],[34.0,-0.28],[30.16,-0.19],[28.52,-0.19],[27.43,-0.13],[25.93,-0.24],[26.34,-0.28],[24.43,-0.35],[21.56,-0.33],[20.6,-0.44],[19.18,-0.41],[17.87,-0.34],[16.5,-0.35],[16.1,-0.34],[19.92,-0.7],[17.95,-0.59],[21.91,-0.75],[27.65,-0.65],[28.47,-0.83],[30.27,-0.73],[33.44,-0.73],
[15.96,-0.09],[16.5,-0.04],[17.05,-0.13],[17.6,0.02],[18.14,-0.06],[18.69,0.04],[19.1,-0.09],[19.5,-0.02],[19.92,0.09],[20.33,-0.13],[20.87,0.06],[21.42,0.13],[21.83,-0.02],[22.38,0.06],[22.79,-0.06],[23.6,0.02],[24.15,-0.04],[24.97,0.04],[25.52,-0.07],[15.27,0.02],[14.73,-0.09],[15.68,-0.15],[17.32,-0.2],[18.28,-0.17],[19.23,-0.19],[20.05,-0.24],[18.42,0.15],[17.6,0.2],[16.78,0.11],[20.87,0.22],[21.7,0.06],[22.5,-0.13],[23.88,-0.09],[24.7,-0.13],[26.34,-0.09],[27.98,-0.06],[28.93,-0.09],[29.62,-0.06],[30.98,-0.06],[32.08,-0.2],[32.9,-0.24],[33.72,-0.35],[33.44,-0.32]
];

// ---------------- layout ----------------
const gridBoxes = [
  {left:147, top:17, width:456, height:214},
  {left:673, top:17, width:455, height:214},
  {left:147, top:297, width:456, height:214},
  {left:673, top:297, width:455, height:214},
  {left:147, top:577, width:456, height:214},
  {left:673, top:577, width:455, height:214}
];
const FONT = 'DejaVu Sans';
const BAND = 'rgba(255,140,0,0.3)';
const MEDC = '#ffa500';
const PTC = 'rgba(0,0,0,0.4)';
const YMIN = -1.2, YMAX = 1.2;
const fmt = v => (v < 0 ? '\u2212' : '') + String(Math.abs(v));
const clampY = v => Math.max(YMIN, Math.min(YMAX, v));
const k = a => 'rgba(0,0,0,' + a + ')';

const xAxes = [], yAxes = [], series = [];
function addAxes(gi, xr, xMaj, xMin, ySide) {
  const line = {show:true, onZero:false, lineStyle:{color:'#000', width:2}};
  const noLine = {show:false, onZero:false};
  const tMaj = v => ({show:true, inside:false, customValues:v, length:12, lineStyle:{color:'#000', width:1.5}});
  const tMin = v => ({show:true, inside:false, customValues:v, length:6, lineStyle:{color:'#000', width:1.2}});
  ['bottom','top'].forEach(pos => {
    xAxes.push({type:'value', gridIndex:gi, position:pos, min:xr[0], max:xr[1], axisLine:line, axisTick:tMaj(xMaj), splitLine:{show:false},
      axisLabel: pos === 'bottom' ? {show:true, customValues:xMaj, fontSize:27, color:'#000', fontFamily:FONT, margin:20, formatter:fmt} : {show:false}});
    xAxes.push({type:'value', gridIndex:gi, position:pos, min:xr[0], max:xr[1], axisLine:noLine, axisTick:tMin(xMin), splitLine:{show:false}, axisLabel:{show:false}});
  });
  ['left','right'].forEach(pos => {
    yAxes.push({type:'value', gridIndex:gi, position:pos, min:YMIN, max:YMAX, axisLine:line, axisTick:tMaj(yMajor), splitLine:{show:false},
      axisLabel: pos === ySide ? {show:true, customValues:yMajor, fontSize:27, color:'#000', fontFamily:FONT, margin: pos==='left'?12:22, formatter:fmt} : {show:false}});
    yAxes.push({type:'value', gridIndex:gi, position:pos, min:YMIN, max:YMAX, axisLine:noLine, axisTick:tMin(yMinor), splitLine:{show:false}, axisLabel:{show:false}});
  });
}
function bandRender(params, api) {
  const x0 = api.value(0), x1 = api.value(1);
  const lo = clampY(api.value(2)), hi = clampY(api.value(3));
  if (!(hi > lo)) return null;
  const a = api.coord([x0, hi]), b = api.coord([x1, lo]);
  return {type:'rect', shape:{x:a[0], y:a[1], width:b[0]-a[0], height:b[1]-a[1]}, style:{fill:BAND}};
}
function stepData(edges, med) {
  const d = med.map((m, i) => [edges[i], m]);
  d.push([edges[edges.length-1], med[med.length-1]]);
  return d;
}
function addDensity(gi, layers) {
  series.push({type:'custom', xAxisIndex:gi*4, yAxisIndex:gi*4, silent:true, clip:true, z:1,
    data: layers.map((L, i) => [L.xs[0], 0, i]), encode:{x:0, y:1},
    renderItem: (params, api) => {
      const L = layers[api.value(2)];
      const up = L.xs.map((x, i) => api.coord([x, clampY(L.hi[i])]));
      const dn = L.xs.map((x, i) => api.coord([x, clampY(L.lo[i])])).reverse();
      return {type:'polygon', shape:{points: up.concat(dn)}, style:{fill:L.fill}};
    }});
}
function addPanel(gi, pts, edges, med, bEdges, lo, hi) {
  const xi = gi*4, yi = gi*4;
  series.push({type:'scatter', xAxisIndex:xi, yAxisIndex:yi, data:pts, symbolSize:6.5, itemStyle:{color:PTC}, z:2, silent:true, clip:true});
  series.push({type:'custom', xAxisIndex:xi, yAxisIndex:yi, silent:true, clip:true, z:3,
    data: lo.map((l, i) => [bEdges[i], bEdges[i+1], l, hi[i]]), encode:{x:[0,1], y:[2,3]}, renderItem: bandRender});
  series.push({type:'line', xAxisIndex:xi, yAxisIndex:yi, data:stepData(edges, med), step:'end', showSymbol:false, symbol:'none',
    lineStyle:{color:MEDC, width:2.5}, z:4, silent:true, clip:true});
}

addAxes(0, [7.5, 8.5], xMajorLamost, xMinorLamost, 'left');
addAxes(1, [8, 11], xMajorStromA, xMinorStromA, 'right');
addAxes(2, [10, 30], xMajorStromB, xMinorStromB, 'left');
addAxes(3, [7.5, 40], xMajorWide, xMinorWide, 'right');
addAxes(4, [7.5, 40], xMajorWide, xMinorWide, 'left');
addAxes(5, [7.5, 40], xMajorWide, xMinorWide, 'right');

// dense point clouds drawn as shaded envelopes
addDensity(0, [
  {xs:lamDenseX, hi:lamCloudHi, lo:lamCloudLo,
   fill:{type:'linear', x:0, y:0, x2:0, y2:1, colorStops:[
     {offset:0, color:k(0.12)}, {offset:0.07, color:k(0.45)}, {offset:0.14, color:k(1)},
     {offset:0.75, color:k(1)}, {offset:0.87, color:k(0.45)}, {offset:1, color:k(0.1)}]}}
]);
addDensity(1, [{xs:saDenseX, hi:saDenseHi, lo:saDenseLo, fill:k(0.3)}]);
addDensity(2, [
  {xs:sbDenseX, hi:sbDenseHi, lo:sbDenseLo,
   fill:{type:'linear', x:0, y:0, x2:1, y2:0, colorStops:[
     {offset:0, color:k(0.55)}, {offset:0.4, color:k(0.35)}, {offset:1, color:k(0.0)}]}}
]);
addDensity(4, [
  {xs:hpOutX, hi:hpOutHi, lo:hpOutLo, fill:k(0.08)},
  {xs:hpMidX, hi:hpMidHi, lo:hpMidLo,
   fill:{type:'linear', x:0, y:0, x2:1, y2:0, colorStops:[
     {offset:0, color:k(0.9)}, {offset:0.3, color:k(0.75)}, {offset:0.6, color:k(0.5)}, {offset:1, color:k(0.2)}]}},
  {xs:hpCoreX, hi:hpCoreHi, lo:hpCoreLo,
   fill:{type:'linear', x:0, y:0, x2:1, y2:0, colorStops:[
     {offset:0, color:k(1)}, {offset:0.6, color:k(1)}, {offset:0.8, color:k(0.65)}, {offset:1, color:k(0.1)}]}}
]);
addPanel(0, lamPts, lamEdges, lamMed, lamBandEdges, lamLo, lamHi);
addPanel(1, saPts, saEdges, saMed, saEdges, saLo, saHi);
addPanel(2, sbPts, sbEdges, sbMed, sbEdges, sbLo, sbHi);
addPanel(3, paPts, paEdges, paMed, paEdges, paLo, paHi);
addPanel(4, hpPts, hpEdges, hpMed, hpEdges, hpLo, hpHi);
addPanel(5, gePts, geEdges, geMed, geEdges, geLo, geHi);
// isolated PASTEL median segments
series.push({type:'custom', xAxisIndex:12, yAxisIndex:12, silent:true, clip:true, z:4,
  data: paIsoY.map((y, i) => [paIsoX0[i], paIsoX1[i], y]), encode:{x:[0,1], y:2},
  renderItem: (params, api) => {
    const a = api.coord([api.value(0), api.value(2)]), b = api.coord([api.value(1), api.value(2)]);
    return {type:'line', shape:{x1:a[0], y1:a[1], x2:b[0], y2:b[1]}, style:{stroke:MEDC, lineWidth:2.5}};
  }});

// ---------------- texts ----------------
const labelPos = [[169,175],[694,175],[353,455],[695,303],[329,583],[1038,734]];
const graphics = panelLabels.map((t, i) => ({type:'text', x:labelPos[i][0], y:labelPos[i][1], silent:true, z:10,
  style:{text:t, fontSize:21, lineHeight:27, fontFamily:FONT, fill:'#0000ff'}}));
graphics.push({type:'text', x:46, y:464, rotation:Math.PI/2, silent:true,
  style:{text:'{m|log(g)}{s|ESP \u2212 HS}{m| \u2212 log(g)}{s|ref.}{m|  [cgs (dex)]}', align:'center', verticalAlign:'middle', fontFamily:FONT, fill:'#000',
    rich:{m:{fontSize:37, lineHeight:44, verticalAlign:'bottom', fontFamily:FONT, fill:'#000'}, s:{fontSize:26, lineHeight:26, verticalAlign:'top', fontFamily:FONT, fill:'#000'}}}});
graphics.push({type:'text', x:487, y:868, silent:true, style:{text:'T', fontSize:37, fontFamily:FONT, fill:'#000', verticalAlign:'middle'}});
graphics.push({type:'text', x:514, y:859, silent:true, style:{text:'ref.', fontSize:26, fontFamily:FONT, fill:'#000', verticalAlign:'middle'}});
graphics.push({type:'text', x:514, y:882, silent:true, style:{text:'eff', fontSize:26, fontFamily:FONT, fill:'#000', verticalAlign:'middle'}});
graphics.push({type:'text', x:574, y:868, silent:true, style:{text:'[1000 K]', fontSize:37, fontFamily:FONT, fill:'#000', verticalAlign:'middle'}});

const chart = echarts.init(document.getElementById('c'), null, {renderer:'canvas'});
chart.setOption({
  animation:false,
  backgroundColor:'#fff',
  textStyle:{fontFamily:FONT},
  grid: gridBoxes.map(g => Object.assign({containLabel:false, outerBoundsMode:'none'}, g)),
  xAxis: xAxes,
  yAxis: yAxes,
  series: series,
  graphic: graphics
});
</script></body></html>
